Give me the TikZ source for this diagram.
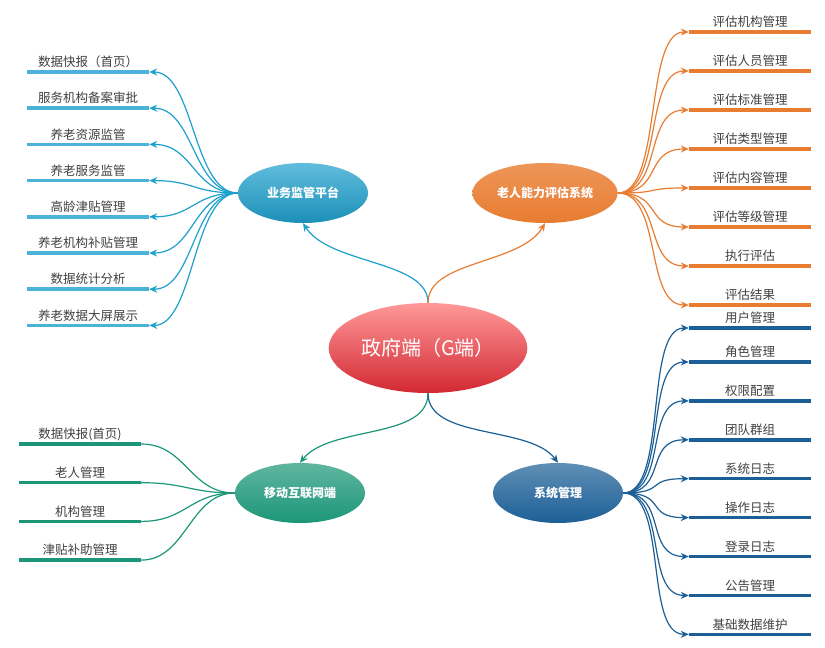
\documentclass[tikz,border=0pt]{standalone}
\usepackage{fontspec}
\setmainfont{Noto Sans CJK SC}
\usetikzlibrary{shapes.geometric,arrows.meta}
\definecolor{cblue}{RGB}{30,160,205}
\definecolor{corange}{RGB}{232,124,48}
\definecolor{cgreen}{RGB}{28,150,120}
\definecolor{cnavy}{RGB}{28,95,150}
\definecolor{cred}{RGB}{210,40,50}
\tikzset{
  hub/.style={ellipse, minimum width=190pt, minimum height=90pt, text=white, font=\fontsize{20}{24}\selectfont,
    top color=red!40!white, bottom color=cred, draw=none},
  branch/.style={ellipse, minimum width=130pt, minimum height=60pt, text=white, font=\bfseries\fontsize{12}{14}\selectfont, draw=none},
  leaf/.style={minimum width=122pt, inner sep=1pt, font=\fontsize{12.5}{14}\selectfont, text=black!75},
  link/.style={line width=1.2pt, -{Stealth[length=8pt,width=7pt]}},
  under/.style={line width=3.5pt}
}
\begin{document}
\begin{tikzpicture}[x=1pt,y=-1pt]
\useasboundingbox (0,0) rectangle (825,648);
\node[hub] (g) at (428,348) {政府端（G端）};
\node[branch, top color=cblue!70, bottom color=cblue!90!black] (jg) at (303,193) {业务监管平台};
\node[branch, top color=corange!80, bottom color=corange] (pg) at (545,193) {老人能力评估系统};
\node[branch, top color=cgreen!70, bottom color=cgreen] (yd) at (300,493) {移动互联网端};
\node[branch, top color=cnavy!70, bottom color=cnavy] (xt) at (558,493) {系统管理};
% centre to branches
\draw[link, cblue] (g.north) .. controls (428,260) and (330,265) .. (jg.south);
\draw[link, corange] (g.north) .. controls (428,260) and (520,265) .. (pg.south);
\draw[link, cgreen] (g.south) .. controls (428,440) and (330,425) .. (yd.north);
\draw[link, cnavy] (g.south) .. controls (428,440) and (530,425) .. (xt.north);
% business supervision
\foreach \t [count=\i] in {数据快报（首页）,服务机构备案审批,养老资源监管,养老服务监管,高龄津贴管理,养老机构补贴管理,数据统计分析,养老数据大屏展示}{
  \node[leaf] (a\i) at (88,{62+36.2*(\i-1)}) {\t};
  \draw[under, cblue!80!white] ([yshift=-10pt]a\i.west) coordinate (a\i l) -- ([yshift=-10pt]a\i.east) coordinate (a\i r);
  \draw[link, cblue] (jg.west) .. controls +(-45,0) and +(45,0) .. (a\i r);
}
% assessment
\foreach \t [count=\i] in {评估机构管理,评估人员管理,评估标准管理,评估类型管理,评估内容管理,评估等级管理,执行评估,评估结果}{
  \node[leaf] (b\i) at (750,{22+39*(\i-1)}) {\t};
  \draw[under, corange] ([yshift=-10pt]b\i.west) coordinate (b\i l) -- ([yshift=-10pt]b\i.east) coordinate (b\i r);
  \draw[link, corange] (pg.east) .. controls +(45,0) and +(-45,0) .. (b\i l);
}
% mobile
\foreach \t [count=\i] in {数据快报(首页),老人管理,机构管理,津贴补助管理}{
  \node[leaf] (c\i) at (80,{434+38.7*(\i-1)}) {\t};
  \draw[under, cgreen] ([yshift=-10pt]c\i.west) coordinate (c\i l) -- ([yshift=-10pt]c\i.east) coordinate (c\i r);
  \draw[line width=1.2pt, cgreen] (yd.west) .. controls +(-45,0) and +(45,0) .. (c\i r);
}
% system
\foreach \t [count=\i] in {用户管理,角色管理,权限配置,团队群组,系统日志,操作日志,登录日志,公告管理,基础数据维护}{
  \node[leaf] (d\i) at (750,{\ifnum\i=1 318\else 352+38.9*(\i-2)\fi}) {\t};
  \draw[under, cnavy] ([yshift=-10pt]d\i.west) coordinate (d\i l) -- ([yshift=-10pt]d\i.east) coordinate (d\i r);
  \draw[link, cnavy] (xt.east) .. controls +(45,0) and +(-45,0) .. (d\i l);
}
\end{tikzpicture}
\end{document}
